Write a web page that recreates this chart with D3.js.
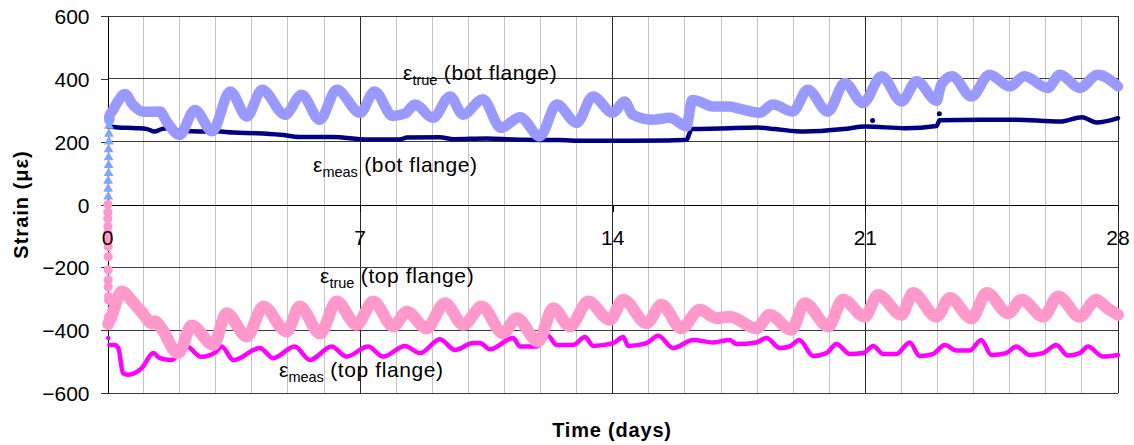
<!DOCTYPE html>
<html>
<head>
<meta charset="utf-8">
<script src="https://cdn.jsdelivr.net/npm/d3@7"></script>
<style>
  html, body { margin: 0; padding: 0; background: #fff; }
  svg { display: block; font-family: "Liberation Sans", Arial, Helvetica, sans-serif; }
</style>
</head>
<body>
<svg id="chart" width="1134" height="445"></svg>
<script>
// ---- Axis ticks ----
const xTicks = [0, 7, 14, 21, 28];
const dayTicks = d3.range(0, 29);
const yTicks = [-600, -400, -200, 0, 200, 400, 600];

// ---- Strain readings [day, microstrain] ----
// True strain, bottom flange: initial loading readings at day 0
const trueBotRise = [[0.02, 25], [0.02, 50], [0.02, 75], [0.03, 100], [0.03, 125], [0.03, 150],
  [0.03, 175], [0.04, 200], [0.04, 225], [0.04, 250], [0.05, 270]];
const trueBot = [[0.05, 280], [0.15, 300], [0.3, 330], [0.48, 352], [0.7, 318], [1.0, 295],
  [1.45, 296], [1.65, 262], [2.0, 222], [2.42, 301], [2.9, 233], [3.4, 360], [3.86, 280],
  [4.28, 365], [4.92, 286], [5.38, 349], [5.88, 270], [6.35, 365], [7.0, 292], [7.4, 360],
  [7.9, 282], [8.25, 290], [8.52, 318], [9.02, 276], [9.49, 344], [9.85, 286], [10.4, 335],
  [10.9, 244], [11.43, 278], [11.98, 217], [12.45, 318], [13.0, 260], [13.45, 344], [14.0, 292],
  [14.33, 328], [14.55, 286], [15.1, 270], [15.58, 276], [16.05, 249], [16.12, 290], [16.2, 333],
  [16.4, 328], [16.77, 312], [17.24, 312], [17.5, 305], [18.07, 292], [18.44, 318], [18.99, 296],
  [19.4, 365], [19.96, 296], [20.43, 387], [20.93, 323], [21.45, 408], [22.0, 328], [22.42, 392],
  [22.98, 330], [23.05, 362], [23.1, 380], [23.4, 408], [23.94, 344], [24.44, 413], [25.0, 376],
  [25.41, 408], [26.05, 371], [26.39, 413], [26.94, 371], [27.44, 413], [28.0, 376]];

// Measured strain, bottom flange
const measBot = [[0.02, 248], [0.3, 245], [0.8, 243], [1.1, 240], [1.3, 232], [1.5, 240],
  [1.64, 243], [2.0, 236], [2.56, 232], [3.0, 233], [3.49, 229], [4.13, 227], [4.8, 222],
  [5.33, 215], [6.25, 215], [7.18, 207], [8.1, 207], [8.3, 213], [9.2, 214], [9.6, 208],
  [10.5, 210], [11.2, 207], [11.5, 206], [12.5, 205], [13.3, 203], [14.5, 203], [15.5, 204],
  [16.05, 206], [16.12, 225], [16.18, 240], [17.0, 242], [18.0, 245], [18.5, 240], [19.3, 232],
  [20.4, 240], [21.0, 248], [22.1, 243], [22.97, 250], [23.06, 268], [24.2, 270], [25.1, 270],
  [26.4, 264], [27.0, 278], [27.4, 261], [28.0, 275]];
const measBotStray = [[21.2, 267], [23.05, 289]];

// True strain, top flange: initial loading readings at day 0
const trueTopDrop = [[0.01, 0], [0.01, -25], [0.01, -45], [0.01, -70], [0.01, -90], [0.02, -112],
  [0.02, -134], [0.02, -166], [0.02, -208], [0.02, -240], [0.02, -262], [0.03, -293],
  [0.03, -305], [0.03, -357]];
const trueTop = [[0.02, -380], [0.1, -360], [0.39, -277], [0.7, -310], [0.85, -330], [1.0, -350],
  [1.22, -378], [1.32, -372], [1.5, -395], [1.95, -473], [2.0, -470], [2.33, -385], [2.93, -447],
  [3.3, -346], [3.86, -420], [4.32, -325], [4.96, -404], [5.33, -325], [5.89, -410], [6.35, -309],
  [6.9, -383], [7.36, -309], [7.92, -388], [8.29, -341], [8.84, -394], [9.35, -314], [9.86, -383],
  [10.37, -325], [10.96, -410], [11.34, -362], [11.93, -436], [12.35, -330], [12.81, -388],
  [13.32, -309], [13.92, -367], [14.29, -303], [14.94, -378], [15.35, -319], [15.9, -394],
  [16.41, -335], [16.88, -362], [17.24, -357], [17.98, -394], [18.35, -351], [18.95, -399],
  [19.32, -314], [19.97, -388], [20.38, -303], [20.98, -357], [21.35, -288], [22.0, -351],
  [22.32, -282], [22.97, -357], [23.34, -298], [23.94, -362], [24.36, -282], [24.96, -346],
  [25.33, -303], [25.93, -357], [26.34, -293], [26.94, -357], [27.4, -303], [27.7, -330],
  [28.0, -351]];

// Measured strain, top flange
const measTop = [[0.05, -447], [0.2, -447], [0.3, -457], [0.43, -537], [0.57, -542], [0.95, -521],
  [1.27, -473], [1.45, -489], [1.78, -495], [2.19, -452], [2.6, -485], [3.0, -470], [3.16, -452],
  [3.49, -495], [4.22, -457], [4.59, -489], [5.19, -452], [5.61, -495], [6.21, -452], [6.63, -484],
  [7.22, -452], [7.64, -484], [8.24, -450], [8.66, -473], [9.21, -429], [9.63, -463], [10.13, -441],
  [10.32, -441], [10.6, -461], [11.24, -425], [11.43, -452], [11.89, -452], [12.21, -418],
  [12.44, -447], [12.9, -447], [13.23, -422], [13.46, -450], [14.01, -441], [14.29, -422],
  [14.43, -450], [14.94, -441], [15.26, -418], [15.67, -457], [16.23, -431], [16.78, -439],
  [17.24, -431], [17.43, -444], [17.98, -439], [18.26, -425], [18.63, -457], [18.9, -452],
  [19.17, -431], [19.55, -482], [19.92, -473], [20.2, -444], [20.57, -476], [20.94, -473],
  [21.22, -450], [21.49, -476], [21.86, -476], [22.23, -439], [22.5, -482], [22.87, -476],
  [23.2, -447], [23.52, -465], [23.89, -465], [24.21, -431], [24.49, -479], [24.9, -473],
  [25.18, -452], [25.55, -479], [25.92, -473], [26.29, -447], [26.61, -481], [26.94, -473],
  [27.17, -452], [27.58, -484], [28.0, -479]];
const measTopStray = [[0.0, -107], [0.02, -425]];

// ---- Scales ----
const svg = d3.select("#chart");
const x = d3.scaleLinear().domain([0, 28]).range([107.5, 1118]);
const y = d3.scaleLinear().domain([-600, 600]).range([393, 16]);

const FONT = '"Liberation Sans", Arial, Helvetica, sans-serif';

// ---- Grid ----
const grid = svg.append("g").attr("shape-rendering", "crispEdges");
grid.selectAll("line.minor")
  .data(dayTicks.filter(d => d % 7 !== 0))
  .join("line")
  .attr("x1", d => x(d)).attr("x2", d => x(d))
  .attr("y1", y(600)).attr("y2", y(-600))
  .attr("stroke", "#c4c4c4").attr("stroke-width", 1);
grid.selectAll("line.major")
  .data(xTicks.filter(d => d !== 0))
  .join("line")
  .attr("x1", d => x(d)).attr("x2", d => x(d))
  .attr("y1", y(600)).attr("y2", y(-600))
  .attr("stroke", "#2a2a2a").attr("stroke-width", 1);
grid.selectAll("line.h")
  .data(yTicks.filter(d => d !== 0))
  .join("line")
  .attr("x1", x(0)).attr("x2", x(28))
  .attr("y1", d => y(d)).attr("y2", d => y(d))
  .attr("stroke", "#3a3a3a").attr("stroke-width", 1);

// ---- Axes ----
const yAxis = svg.append("g")
  .attr("transform", `translate(${x(0)},0)`)
  .attr("shape-rendering", "crispEdges")
  .call(d3.axisLeft(y).tickValues(yTicks).tickSize(7).tickSizeOuter(0).tickPadding(11));
yAxis.select(".domain").attr("stroke", "#000");
yAxis.selectAll(".tick line").attr("stroke", "#333");
yAxis.selectAll(".tick text")
  .attr("font-family", FONT).attr("font-size", 21).attr("fill", "#000")
  .attr("dy", "0.36em");

const xAxis = svg.append("g")
  .attr("transform", `translate(0,${y(0)})`)
  .attr("shape-rendering", "crispEdges")
  .call(d3.axisBottom(x).tickValues(xTicks).tickSize(7).tickSizeOuter(0).tickPadding(26));
xAxis.select(".domain").attr("stroke", "#000");
xAxis.selectAll(".tick line").attr("stroke", "#000");
xAxis.selectAll(".tick text").remove();

// ---- Series ----
const line = d3.line().x(d => x(d[0])).y(d => y(d[1])).curve(d3.curveMonotoneX);
const series = svg.append("g").attr("fill", "none")
  .attr("stroke-linejoin", "round").attr("stroke-linecap", "round");

series.append("path").datum(measBot).attr("d", line)
  .attr("stroke", "#000080").attr("stroke-width", 4.5);
svg.append("g").selectAll("circle").data(measBotStray).join("circle")
  .attr("cx", d => x(d[0])).attr("cy", d => y(d[1])).attr("r", 2.5).attr("fill", "#000080");

series.append("path").datum(measTop).attr("d", line)
  .attr("stroke", "#ff00ff").attr("stroke-width", 4.5);
svg.append("g").selectAll("circle").data(measTopStray).join("circle")
  .attr("cx", d => x(d[0])).attr("cy", d => y(d[1])).attr("r", 2.2).attr("fill", "#ff00ff");

// True strain bands
const tb = svg.append("g");
tb.append("path").datum([trueBotRise[trueBotRise.length - 1]].concat(trueBot)).attr("d", line)
  .attr("fill", "none").attr("stroke", "#9999ff").attr("stroke-width", 10.5)
  .attr("stroke-linejoin", "round").attr("stroke-linecap", "round");
const tri = d3.symbol().type(d3.symbolTriangle);
tb.selectAll("path.tri").data(trueBotRise).join("path")
  .attr("transform", d => `translate(${x(d[0])},${y(d[1])})`)
  .attr("d", tri.size(42)()).attr("fill", "#9999ff");
tb.selectAll("path.tric").data(trueBotRise).join("path")
  .attr("transform", d => `translate(${x(d[0])},${y(d[1])})`)
  .attr("d", d3.symbol().type(d3.symbolTriangle).size(8)()).attr("fill", "#33ccff");

const tt = svg.append("g");
tt.append("path").datum(trueTop).attr("d", line)
  .attr("fill", "none").attr("stroke", "#ff99cc").attr("stroke-width", 12)
  .attr("stroke-linejoin", "round").attr("stroke-linecap", "round");
tt.selectAll("circle").data(trueTopDrop).join("circle")
  .attr("cx", d => x(d[0])).attr("cy", d => y(d[1])).attr("r", 4.6).attr("fill", "#ff99cc");

// ---- X tick labels (drawn over the series) ----
svg.append("g").selectAll("text").data(xTicks).join("text")
  .attr("x", d => x(d)).attr("y", y(0) + 40)
  .attr("text-anchor", "middle")
  .attr("font-family", FONT).attr("font-size", 21).attr("fill", "#000")
  .text(d => d);

// ---- Series annotations ----
function annot(px, py, sub, rest) {
  const t = svg.append("text").attr("x", px).attr("y", py)
    .attr("font-family", FONT).attr("fill", "#000");
  t.append("tspan").attr("font-size", 21).text("ε");
  t.append("tspan").attr("font-size", 14.5).attr("dy", 5).text(sub);
  t.append("tspan").attr("font-size", 21).attr("dy", -5).attr("letter-spacing", 0.6).text(" " + rest);
}
annot(403, 80, "true", "(bot flange)");
annot(313, 172, "meas", "(bot flange)");
annot(320, 283, "true", "(top flange)");
annot(279, 377, "meas", "(top flange)");

// ---- Axis titles ----
svg.append("text")
  .attr("transform", `translate(28,${y(0)}) rotate(-90)`)
  .attr("text-anchor", "middle")
  .attr("font-family", FONT).attr("font-size", 20).attr("font-weight", "bold")
  .attr("letter-spacing", 1)
  .text("Strain (με)");
svg.append("text")
  .attr("x", 612).attr("y", 437)
  .attr("text-anchor", "middle")
  .attr("font-family", FONT).attr("font-size", 20).attr("font-weight", "bold")
  .attr("letter-spacing", 0.8)
  .text("Time (days)");
</script>
</body>
</html>
